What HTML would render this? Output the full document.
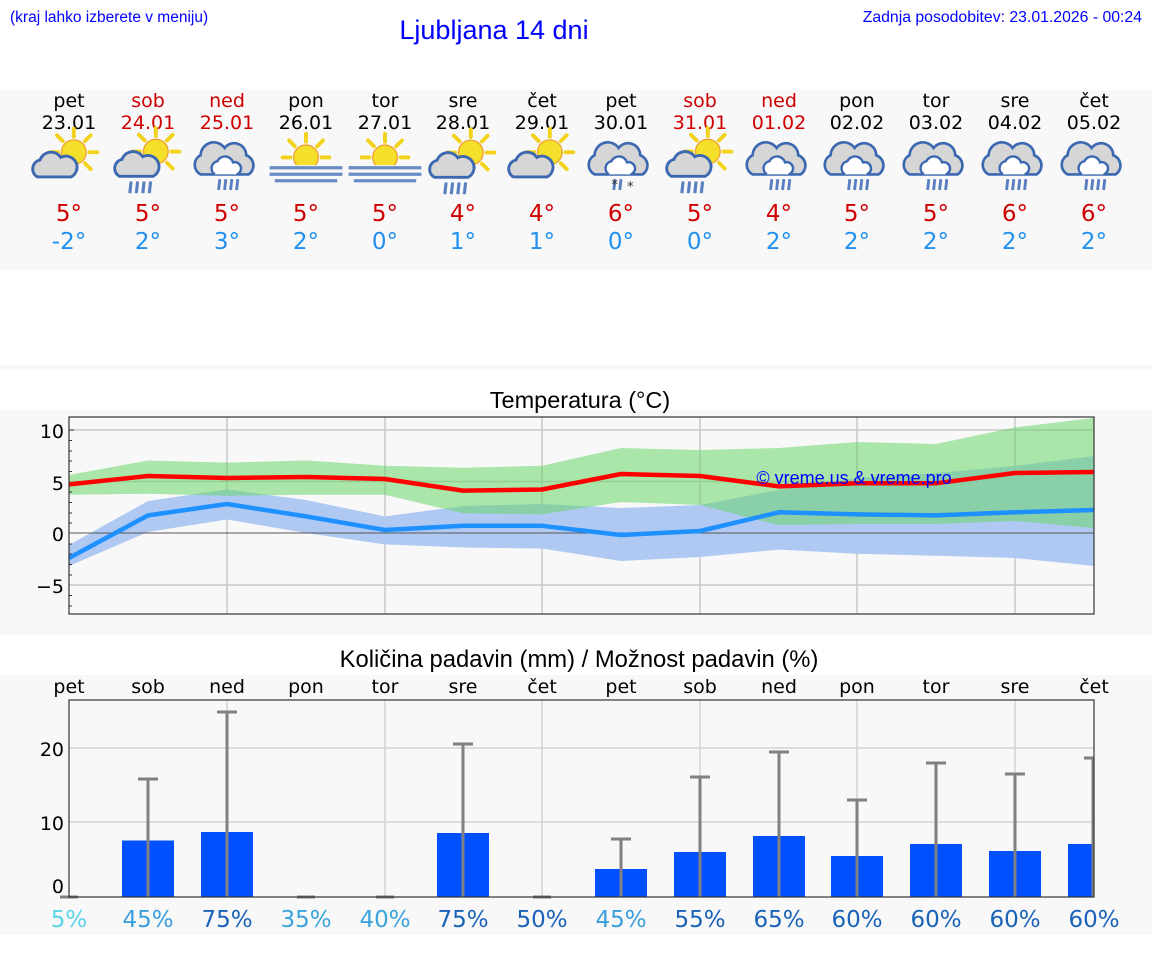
<!DOCTYPE html>
<html><head><meta charset="utf-8"><style>
body{margin:0;background:#fff;}
svg{display:block;font-family:"DejaVu Sans","Liberation Sans",sans-serif;}
</style></head><body>
<svg width="1152" height="975" viewBox="0 0 1152 975" xmlns="http://www.w3.org/2000/svg">
<defs>
<g id="sun"><g stroke="#f2d21a" stroke-width="3" stroke-linecap="round"><line x1="0" y1="-12" x2="0" y2="-18"/><line x1="8.5" y1="-8.5" x2="13" y2="-13"/><line x1="12" y1="0" x2="18" y2="0"/><line x1="8.5" y1="8.5" x2="13" y2="13"/><line x1="-8.5" y1="-8.5" x2="-13" y2="-13"/><line x1="-12" y1="0" x2="-18" y2="0"/><line x1="0" y1="12" x2="0" y2="17"/></g><circle r="9.5" fill="#f4e02a" stroke="#f0a030" stroke-width="1"/></g>
<g id="cloud"><path d="M-16,8 a7,7 0 0 1 2,-13 a9,9 0 0 1 16,-2 a7,7 0 0 1 8,15 z" fill="#d6d6d6" stroke="#3b68b0" stroke-width="2.2"/></g>
<g id="bigcloud"><path d="M-22,12 a9,9 0 0 1 0,-16 a11,11 0 0 1 20,-6 a10,10 0 0 1 18,6 a9,9 0 0 1 2,16 z" fill="#d6d6d6" stroke="#3b68b0" stroke-width="2.2"/><path d="M-10,12 a6,6 0 0 1 2,-11 a7,7 0 0 1 13,1 a5,5 0 0 1 3,10" fill="#fff" stroke="#3b68b0" stroke-width="2"/></g>
<g id="rain" stroke="#5a7fc0" stroke-width="2.4"><line x1="-6" y1="0" x2="-7" y2="9"/><line x1="-1" y1="0" x2="-2" y2="9"/><line x1="4" y1="0" x2="3" y2="9"/><line x1="9" y1="0" x2="8" y2="9"/></g>
<g id="rain2" stroke="#5a7fc0" stroke-width="2.4"><line x1="-1" y1="0" x2="-2" y2="9"/><line x1="4" y1="0" x2="3" y2="9"/></g>
<g id="fog" stroke="#6a8cc6" stroke-width="2.5"><line x1="-28" y1="0" x2="28" y2="0"/><line x1="-28" y1="5" x2="28" y2="5"/><line x1="-24" y1="10" x2="24" y2="10"/></g>
<g id="i_sc" transform="scale(1.3)"><use href="#sun" x="6" y="-6"/><use href="#cloud" x="-6" y="5"/></g>
<g id="i_scr" transform="scale(1.3)"><use href="#sun" x="6" y="-8"/><use href="#cloud" x="-6" y="3"/><use href="#rain" x="-7" y="15"/></g>
<g id="i_cr" transform="scale(1.2)"><use href="#bigcloud" x="0" y="0"/><use href="#rain" x="0" y="16"/></g>
<g id="i_sf" transform="scale(1.3)"><use href="#sun" x="0" y="-2"/><rect x="-30" y="4" width="60" height="16" fill="#f8f8f8"/><use href="#fog" x="0" y="6"/></g>
</defs>

<text x="10" y="22" font-size="15.5" fill="#0000ff" font-family="Liberation Sans,sans-serif">(kraj lahko izberete v meniju)</text>
<text x="494" y="39" font-size="27" fill="#0000ff" text-anchor="middle" font-family="Liberation Sans,sans-serif">Ljubljana 14 dni</text>
<text x="1142" y="22" font-size="15.8" fill="#0000ff" text-anchor="end" font-family="Liberation Sans,sans-serif">Zadnja posodobitev: 23.01.2026 - 00:24</text>

<rect x="0" y="90" width="1152" height="180" fill="#f8f8f8"/>
<rect x="0" y="365" width="1152" height="5" fill="#f8f8f8"/>
<rect x="0" y="410" width="1152" height="225" fill="#f8f8f8"/>
<rect x="0" y="675" width="1152" height="260" fill="#f8f8f8"/>

<g font-size="19" text-anchor="middle">
<g fill="#000"><text x="69" y="107">pet</text><text x="306" y="107">pon</text><text x="385" y="107">tor</text><text x="463" y="107">sre</text><text x="542" y="107">čet</text><text x="621" y="107">pet</text><text x="857" y="107">pon</text><text x="936" y="107">tor</text><text x="1015" y="107">sre</text><text x="1094" y="107">čet</text>
<text x="69" y="129">23.01</text><text x="306" y="129">26.01</text><text x="385" y="129">27.01</text><text x="463" y="129">28.01</text><text x="542" y="129">29.01</text><text x="621" y="129">30.01</text><text x="857" y="129">02.02</text><text x="936" y="129">03.02</text><text x="1015" y="129">04.02</text><text x="1094" y="129">05.02</text></g>
<g fill="#d00000"><text x="148" y="107">sob</text><text x="227" y="107">ned</text><text x="700" y="107">sob</text><text x="779" y="107">ned</text>
<text x="148" y="129">24.01</text><text x="227" y="129">25.01</text><text x="700" y="129">31.01</text><text x="779" y="129">01.02</text></g>
</g>

<use href="#i_sc" x="66" y="160"/>
<use href="#i_scr" x="148" y="162"/>
<use href="#i_cr" x="227" y="160"/>
<use href="#i_sf" x="306" y="160"/>
<use href="#i_sf" x="385" y="160"/>
<use href="#i_scr" x="463" y="163"/>
<use href="#i_sc" x="542" y="160"/>
<g transform="translate(621,160) scale(1.2)"><use href="#bigcloud"/><use href="#rain2" x="-4" y="16"/><text x="-8" y="24" font-size="11" fill="#333">*</text><text x="5" y="26" font-size="11" fill="#333">*</text></g>
<use href="#i_scr" x="700" y="162"/>
<use href="#i_cr" x="779" y="160"/>
<use href="#i_cr" x="857" y="160"/>
<use href="#i_cr" x="936" y="160"/>
<use href="#i_cr" x="1015" y="160"/>
<use href="#i_cr" x="1094" y="160"/>

<g font-size="23" text-anchor="middle" fill="#d00000">
<text x="69" y="221">5°</text><text x="148" y="221">5°</text><text x="227" y="221">5°</text><text x="306" y="221">5°</text><text x="385" y="221">5°</text><text x="463" y="221">4°</text><text x="542" y="221">4°</text><text x="621" y="221">6°</text><text x="700" y="221">5°</text><text x="779" y="221">4°</text><text x="857" y="221">5°</text><text x="936" y="221">5°</text><text x="1015" y="221">6°</text><text x="1094" y="221">6°</text>
</g>
<g font-size="23" text-anchor="middle" fill="#2090f0">
<text x="69" y="249">-2°</text><text x="148" y="249">2°</text><text x="227" y="249">3°</text><text x="306" y="249">2°</text><text x="385" y="249">0°</text><text x="463" y="249">1°</text><text x="542" y="249">1°</text><text x="621" y="249">0°</text><text x="700" y="249">0°</text><text x="779" y="249">2°</text><text x="857" y="249">2°</text><text x="936" y="249">2°</text><text x="1015" y="249">2°</text><text x="1094" y="249">2°</text>
</g>

<!-- Temperature chart -->
<text x="580" y="408" font-size="23.5" text-anchor="middle" fill="#000" font-family="Liberation Sans,sans-serif">Temperatura (°C)</text>
<rect x="69" y="417" width="1025" height="197" fill="#f8f8f8"/>
<g stroke="#c8c8c8" stroke-width="1.5">
<line x1="69" y1="430" x2="1094" y2="430"/><line x1="69" y1="481.5" x2="1094" y2="481.5"/><line x1="69" y1="585" x2="1094" y2="585"/>
<line x1="227" y1="417" x2="227" y2="614"/><line x1="385" y1="417" x2="385" y2="614"/><line x1="542" y1="417" x2="542" y2="614"/><line x1="700" y1="417" x2="700" y2="614"/><line x1="857" y1="417" x2="857" y2="614"/><line x1="1015" y1="417" x2="1015" y2="614"/>
</g>
<polygon fill="#afc9f3" points="69,545 148,501 227,489.5 306,500 385,516.4 463,506 542,504 621,508 700,505 779,490 857,478 936,473 1015,466 1094,456 1094,566 1015,558 936,555.8 857,553.7 779,549.6 700,557 621,561 542,548.5 463,547.5 385,544.4 306,533 227,519.5 148,532 69,566"/>
<polygon fill="#6ad66a" fill-opacity="0.55" points="69,475 148,460.5 227,462.6 306,460.5 385,465.7 463,467.8 542,465.7 621,448 700,450 779,448 857,442 936,444 1015,427.4 1094,418 1094,528 1015,521 936,524 857,524 779,525 700,505 621,502 542,514.4 463,513.3 385,494.7 306,494.7 227,495.7 148,493.7 69,494.7"/>
<line x1="69" y1="533" x2="1094" y2="533" stroke="#555" stroke-width="1"/>
<polyline fill="none" stroke="#1e90ff" stroke-width="4.5" stroke-linejoin="round" points="69,558 148,515.4 227,504 306,516.4 385,530 463,525.8 542,525.8 621,535 700,531 779,512.3 857,514.4 936,515.4 1015,512.3 1094,510"/>
<polyline fill="none" stroke="#ff0000" stroke-width="4.5" stroke-linejoin="round" points="69,484.4 148,476 227,478 306,477 385,479 463,490.6 542,489.5 621,474 700,476 779,486.4 857,483.3 936,483.3 1015,473 1094,472"/>
<text x="854" y="484" font-size="18" fill="#0000ff" text-anchor="middle" font-family="Liberation Sans,sans-serif">© vreme.us &amp; vreme.pro</text>
<rect x="69" y="417" width="1025" height="197" fill="none" stroke="#333" stroke-width="1.2"/>
<g stroke="#333" stroke-width="1"><line x1="69" y1="430" x2="74" y2="430"/><line x1="69" y1="440.5" x2="72" y2="440.5"/><line x1="69" y1="451" x2="72" y2="451"/><line x1="69" y1="461" x2="72" y2="461"/><line x1="69" y1="471.5" x2="72" y2="471.5"/><line x1="69" y1="492" x2="72" y2="492"/><line x1="69" y1="502.5" x2="72" y2="502.5"/><line x1="69" y1="513" x2="72" y2="513"/><line x1="69" y1="523" x2="72" y2="523"/><line x1="69" y1="544" x2="72" y2="544"/><line x1="69" y1="554" x2="72" y2="554"/><line x1="69" y1="564.5" x2="72" y2="564.5"/><line x1="69" y1="575" x2="72" y2="575"/><line x1="69" y1="595.5" x2="72" y2="595.5"/><line x1="69" y1="606" x2="72" y2="606"/></g>
<g font-size="19" text-anchor="end" fill="#000"><text x="64" y="438">10</text><text x="64" y="490">5</text><text x="64" y="541">0</text><text x="64" y="593">−5</text></g>

<!-- Precip chart -->
<text x="579" y="667" font-size="23.8" text-anchor="middle" fill="#000" font-family="Liberation Sans,sans-serif">Količina padavin (mm) / Možnost padavin (%)</text>
<g font-size="19" text-anchor="middle" fill="#000">
<text x="69" y="693">pet</text><text x="148" y="693">sob</text><text x="227" y="693">ned</text><text x="306" y="693">pon</text><text x="385" y="693">tor</text><text x="463" y="693">sre</text><text x="542" y="693">čet</text><text x="621" y="693">pet</text><text x="700" y="693">sob</text><text x="779" y="693">ned</text><text x="857" y="693">pon</text><text x="936" y="693">tor</text><text x="1015" y="693">sre</text><text x="1094" y="693">čet</text>
</g>
<rect x="69" y="700" width="1025" height="197" fill="#f8f8f8"/>
<g stroke="#d4d4d4" stroke-width="1.5">
<line x1="69" y1="748" x2="1094" y2="748"/><line x1="69" y1="822" x2="1094" y2="822"/>
<line x1="227" y1="700" x2="227" y2="897"/><line x1="385" y1="700" x2="385" y2="897"/><line x1="542" y1="700" x2="542" y2="897"/><line x1="700" y1="700" x2="700" y2="897"/><line x1="857" y1="700" x2="857" y2="897"/><line x1="1015" y1="700" x2="1015" y2="897"/>
</g>
<g fill="#0050ff">
<rect x="122" y="840.5" width="52" height="56.5"/><rect x="201" y="832" width="52" height="65"/><rect x="437" y="833" width="52" height="64"/><rect x="595" y="869" width="52" height="28"/><rect x="674" y="852" width="52" height="45"/><rect x="753" y="836" width="52" height="61"/><rect x="831" y="856" width="52" height="41"/><rect x="910" y="844" width="52" height="53"/><rect x="989" y="851" width="52" height="46"/><rect x="1068" y="844" width="26" height="53"/>
</g>
<g stroke="#808080" stroke-width="3">
<line x1="148" y1="779" x2="148" y2="897"/><line x1="138" y1="779" x2="158" y2="779"/>
<line x1="227" y1="712" x2="227" y2="897"/><line x1="217" y1="712" x2="237" y2="712"/>
<line x1="463" y1="744" x2="463" y2="897"/><line x1="453" y1="744" x2="473" y2="744"/>
<line x1="621" y1="839" x2="621" y2="897"/><line x1="611" y1="839" x2="631" y2="839"/>
<line x1="700" y1="777" x2="700" y2="897"/><line x1="690" y1="777" x2="710" y2="777"/>
<line x1="779" y1="752" x2="779" y2="897"/><line x1="769" y1="752" x2="789" y2="752"/>
<line x1="857" y1="800" x2="857" y2="897"/><line x1="847" y1="800" x2="867" y2="800"/>
<line x1="936" y1="763" x2="936" y2="897"/><line x1="926" y1="763" x2="946" y2="763"/>
<line x1="1015" y1="774" x2="1015" y2="897"/><line x1="1005" y1="774" x2="1025" y2="774"/>
<line x1="1093" y1="758" x2="1093" y2="897"/><line x1="1084" y1="758" x2="1094" y2="758"/>
<line x1="60" y1="897" x2="78" y2="897"/><line x1="297" y1="897" x2="315" y2="897"/><line x1="376" y1="897" x2="394" y2="897"/><line x1="533" y1="897" x2="551" y2="897"/>
</g>
<rect x="69" y="700" width="1025" height="197" fill="none" stroke="#333" stroke-width="1.2"/>
<g font-size="19" text-anchor="end" fill="#000"><text x="64" y="756">20</text><text x="64" y="830">10</text><text x="64" y="893">0</text></g>
<g font-size="23" text-anchor="middle">
<text x="69" y="927" fill="#5ad4e6">5%</text><text x="148" y="927" fill="#3a9edc">45%</text><text x="227" y="927" fill="#1a62b8">75%</text><text x="306" y="927" fill="#3aa4dc">35%</text><text x="385" y="927" fill="#3aa4dc">40%</text><text x="463" y="927" fill="#1a62b8">75%</text><text x="542" y="927" fill="#1a62b8">50%</text><text x="621" y="927" fill="#3a9edc">45%</text><text x="700" y="927" fill="#1a62b8">55%</text><text x="779" y="927" fill="#1a62b8">65%</text><text x="857" y="927" fill="#1a62b8">60%</text><text x="936" y="927" fill="#1a62b8">60%</text><text x="1015" y="927" fill="#1a62b8">60%</text><text x="1094" y="927" fill="#1a62b8">60%</text>
</g>
</svg>
</body></html>
